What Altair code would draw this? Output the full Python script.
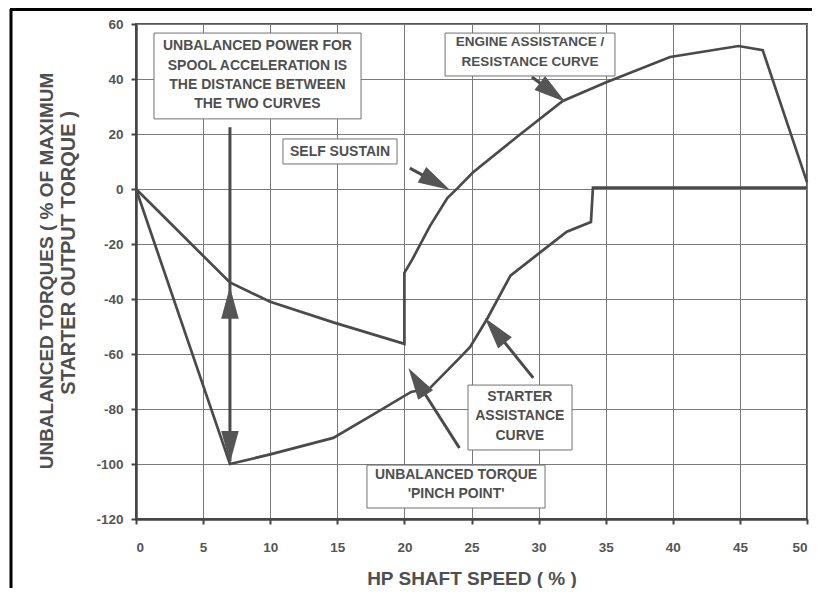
import math
import altair as alt
import pandas as pd

# ---------------- data ----------------
engine_x = [0, 7, 10, 14.7, 20, 20, 20.6, 21.9, 23.2, 24, 25.1, 28.4, 31.8, 35, 39.8, 44.9, 46.7, 50]
engine_y = [0, -34, -41, -48.5, -56.3, -30.5, -25.5, -13.5, -3.3, 0.5, 6, 19, 32, 38.7, 48, 52, 50.5, 2.5]

starter_x = [0, 7, 10, 14.7, 17.5, 20.5, 21.9, 24.1, 24.9, 26.2, 27.9, 30, 32.1, 33.9, 34.05, 50]
starter_y = [0, -100, -96.5, -90.5, -82.5, -73.8, -72.4, -61.5, -57.4, -46.9, -31.5, -23.5, -15.5, -12, 0.5, 0.5]

x_ticks = [0, 5, 10, 15, 20, 25, 30, 35, 40, 45, 50]
y_ticks = [-120, -100, -80, -60, -40, -20, 0, 20, 40, 60]

# annotation boxes (x1, x2, y1, y2) in data units
box_x1 = [1.34, 10.95, 23.03, 24.74, 17.21]
box_x2 = [16.77, 19.45, 35.69, 32.49, 30.48]
box_y1 = [56.7, 18.2, 56.7, -71.3, -100.4]
box_y2 = [25.5, 9.1, 41.1, -94.9, -116.0]

# annotation text lines
label_text = [
    "UNBALANCED POWER FOR", "SPOOL ACCELERATION IS", "THE DISTANCE BETWEEN", "THE TWO CURVES",
    "SELF SUSTAIN",
    "ENGINE ASSISTANCE /", "RESISTANCE CURVE",
    "STARTER", "ASSISTANCE", "CURVE",
    "UNBALANCED TORQUE", "'PINCH POINT'",
]
label_x = [9.05, 9.05, 9.05, 9.05, 15.2, 29.36, 29.36, 28.6, 28.6, 28.6, 23.85, 23.85]
label_y = [52.0, 44.9, 37.9, 31.0, 13.5, 53.4, 46.2, -75.6, -82.6, -89.8, -104.0, -110.9]
label_size = [14, 14, 14, 14, 14, 13.5, 13.5, 14, 14, 14, 14, 14]

# arrows: tail -> tip (data units)
arrow_tail_x = [20.4, 29.5, 29.6, 24.1, 7.0, 7.0]
arrow_tail_y = [7.6, 40.7, -68.7, -94.2, -60.0, -60.0]
arrow_tip_x = [23.4, 32.0, 26.0, 20.3, 7.0, 7.0]
arrow_tip_y = [-0.4, 31.6, -46.9, -65.1, -35.5, -99.6]
# shaft of the double arrow
shaft_x = [7.0]
shaft_y1 = [22.5]
shaft_y2 = [-99.0]

# ---------------- layout ----------------
W, H = 671, 495
XMIN, XMAX, YMIN, YMAX = 0, 50, -120, 60
px_x = W / (XMAX - XMIN)
px_y = H / (YMAX - YMIN)

FONT = "Liberation Sans"
LINE = "#4a4a4a"
TEXT = "#4f4f4f"

xs = alt.Scale(domain=[XMIN, XMAX], nice=False, zero=False)
ys = alt.Scale(domain=[YMIN, YMAX], nice=False, zero=False)

curves = pd.DataFrame(
    {"x": engine_x + starter_x,
     "y": engine_y + starter_y,
     "series": ["engine"] * len(engine_x) + ["starter"] * len(starter_x),
     "o": list(range(len(engine_x))) + list(range(len(starter_x)))}
)

base_axis_x = alt.Axis(values=x_ticks, title="HP SHAFT SPEED ( % )", grid=True,
                       labelExpr="'' + datum.value")
base_axis_y = alt.Axis(values=y_ticks, title=None, grid=True, labelExpr="'' + datum.value")

lines = alt.Chart(curves).mark_line(color=LINE, strokeWidth=2.7, strokeJoin="miter").encode(
    x=alt.X("x:Q", scale=xs, axis=base_axis_x),
    y=alt.Y("y:Q", scale=ys, axis=base_axis_y),
    detail="series:N",
    order="o:Q",
)

# arrow shafts
R = 16  # half length of arrowhead in px
shafts = []
heads = []
for tx, ty, hx, hy in zip(arrow_tail_x, arrow_tail_y, arrow_tip_x, arrow_tip_y):
    dxp = (hx - tx) * px_x
    dyp = -(hy - ty) * px_y  # screen coordinates (down positive)
    L = math.hypot(dxp, dyp)
    ux, uy = dxp / L, dyp / L
    ang = math.degrees(math.atan2(ux, -uy)) % 360
    cx = hx - ux * R / px_x
    cy = hy + uy * R / px_y
    heads.append({"x": cx, "y": cy, "a": ang})
    shafts.append({"x": tx, "y": ty, "x2": hx - ux * R / px_x, "y2": hy + uy * R / px_y})
shaft_df = pd.DataFrame(shafts[:4] + [{"x": shaft_x[0], "y": shaft_y1[0], "x2": shaft_x[0], "y2": shaft_y2[0]}])
head_df = pd.DataFrame(heads)

shaft_layer = alt.Chart(shaft_df).mark_rule(color=LINE, strokeWidth=3).encode(
    x=alt.X("x:Q", scale=xs), y=alt.Y("y:Q", scale=ys), x2="x2:Q", y2="y2:Q"
)
head_layer = alt.Chart(head_df).mark_point(
    shape="M0,-1L-0.55,1L0.55,1Z", filled=True, color="#555555", opacity=1, size=(2 * R) ** 2
).encode(
    x=alt.X("x:Q", scale=xs), y=alt.Y("y:Q", scale=ys), angle=alt.Angle("a:Q", scale=None)
)

box_df = pd.DataFrame({"x": box_x1, "x2": box_x2, "y": box_y1, "y2": box_y2})
boxes = alt.Chart(box_df).mark_rect(fill="white", stroke="#707070", strokeWidth=1).encode(
    x=alt.X("x:Q", scale=xs), x2="x2:Q", y=alt.Y("y:Q", scale=ys), y2="y2:Q"
)

lab_df = pd.DataFrame({"t": label_text, "x": label_x, "y": label_y, "s": label_size})
labels = alt.Chart(lab_df).mark_text(
    font=FONT, fontWeight="bold", color=TEXT, align="center", baseline="middle"
).encode(
    x=alt.X("x:Q", scale=xs), y=alt.Y("y:Q", scale=ys), text="t:N",
    size=alt.Size("s:Q", scale=None, legend=None),
)

# y axis title (two lines)
ytitle_df = pd.DataFrame({"t": ["UNBALANCED TORQUES ( % OF MAXIMUM", "STARTER OUTPUT TORQUE )"],
                          "k": [0, 1]})
ytitle1 = alt.Chart(ytitle_df.iloc[[0]]).mark_text(
    font=FONT, fontWeight="bold", fontSize=19, color=TEXT, angle=270, align="center", baseline="middle"
).encode(x=alt.value(-89), y=alt.value(247), text="t:N")
ytitle2 = alt.Chart(ytitle_df.iloc[[1]]).mark_text(
    font=FONT, fontWeight="bold", fontSize=20, color=TEXT, angle=270, align="center", baseline="middle"
).encode(x=alt.value(-67), y=alt.value(229), text="t:N")

# outer frame of the figure
frame_df = pd.DataFrame({"k": [0]})
frame_left = alt.Chart(frame_df).mark_rule(color="black", strokeWidth=3).encode(
    x=alt.value(-125), y=alt.value(-15), y2=alt.value(H + 70)
)
frame_top = alt.Chart(frame_df).mark_rule(color="black", strokeWidth=3).encode(
    x=alt.value(-126), x2=alt.value(W + 10), y=alt.value(-14.5)
)

chart = alt.layer(
    lines, shaft_layer, head_layer, boxes, labels, ytitle1, ytitle2, frame_left, frame_top
).properties(
    width=W, height=H,
    autosize=alt.AutoSizeParams(type="none"),
    padding={"left": 128, "top": 16, "right": 5, "bottom": 69},
    background="white",
).configure_view(
    stroke="#555555", strokeWidth=2
).configure_axis(
    gridColor="#7a7a7a", gridWidth=1, gridOpacity=1,
    domainColor="#444444", domainWidth=2.5,
    tickColor="#444444", tickWidth=2, tickSize=5,
    labelFont=FONT, labelFontWeight="bold", labelFontSize=13.5, labelColor="#555555",
    labelPadding=8,
    titleFont=FONT, titleFontWeight="bold", titleFontSize=19, titleColor=TEXT,
).configure_axisX(labelPadding=16, titlePadding=16)

chart.save("out.html", embed_options={"renderer": "svg", "actions": False})
